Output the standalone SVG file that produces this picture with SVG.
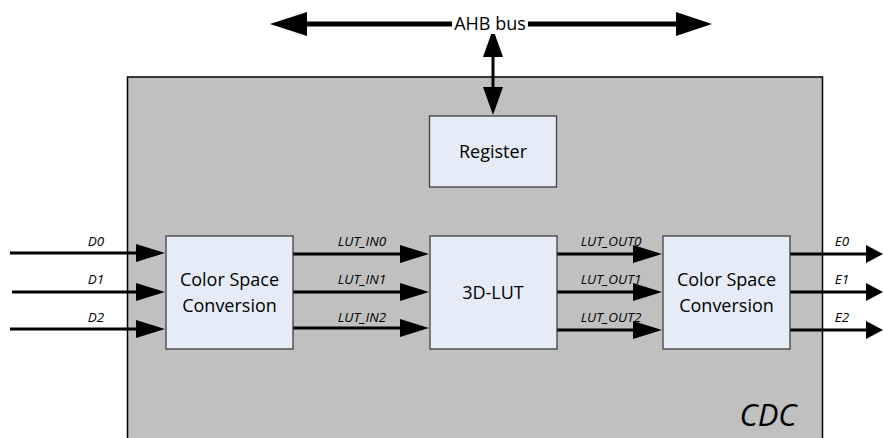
<svg xmlns="http://www.w3.org/2000/svg" width="883" height="438" viewBox="0 0 883 438">
<style>
.box{fill:#e6ecf7;stroke:#404040;stroke-width:1.3}
.t{font-family:"Open Sans","Liberation Sans",sans-serif;font-size:18px;fill:#000;text-anchor:middle}
.l{font-family:"Open Sans","Liberation Sans",sans-serif;font-size:13.5px;font-style:italic;fill:#000;text-anchor:middle}
.w{stroke:#000;stroke-width:3;fill:none}
.bus{stroke:#000;stroke-width:5;fill:none}
.h{fill:#000}
</style>
<rect width="883" height="438" fill="#fff"/>
<g id="cdc">
<rect x="127.5" y="77" width="695" height="370" fill="#c0c0c0" stroke="#000" stroke-width="1.5"/>
<text x="768" y="426" font-family="'Open Sans','Liberation Sans',sans-serif" font-size="31" font-style="italic" text-anchor="middle">CDC</text>
</g>
<g id="connectors">
<line class="bus" x1="300" y1="24" x2="682" y2="24"/>
<polygon class="h" points="270,24 307,12 307,36"/>
<polygon class="h" points="712,24 676,12 676,36"/>
<line class="w" x1="493" y1="55" x2="493" y2="89" stroke-width="4"/>
<polygon class="h" points="493,29 483,57 503,57"/>
<polygon class="h" points="493,115 483,87 503,87"/>
<line class="w" x1="10" y1="253" x2="140" y2="253"/>
<line class="w" x1="12" y1="292" x2="140" y2="292"/>
<line class="w" x1="10" y1="329" x2="140" y2="329"/>
<polygon class="h" points="165,253 136,244 136,262"/>
<polygon class="h" points="165,292 136,283 136,301"/>
<polygon class="h" points="165,329 136,320 136,338"/>
<line class="w" x1="293" y1="254" x2="404" y2="254"/>
<line class="w" x1="293" y1="292" x2="404" y2="292"/>
<line class="w" x1="293" y1="328" x2="404" y2="328"/>
<polygon class="h" points="429,254 400,245 400,263"/>
<polygon class="h" points="429,292 400,283 400,301"/>
<polygon class="h" points="429,328 400,319 400,337"/>
<line class="w" x1="557" y1="254" x2="637" y2="254"/>
<line class="w" x1="557" y1="292" x2="637" y2="292"/>
<line class="w" x1="557" y1="330" x2="637" y2="330"/>
<polygon class="h" points="662,254 633,245 633,263"/>
<polygon class="h" points="662,292 633,283 633,301"/>
<polygon class="h" points="662,330 633,321 633,339"/>
<line class="w" x1="790" y1="254" x2="870" y2="254"/>
<line class="w" x1="790" y1="292" x2="870" y2="292"/>
<line class="w" x1="790" y1="330" x2="870" y2="330"/>
<polygon class="h" points="883,254 866,245 866,263"/>
<polygon class="h" points="883,292 866,283 866,301"/>
<polygon class="h" points="883,330 866,321 866,339"/>
<rect x="452" y="14" width="76" height="20" fill="#fff"/>
<text class="t" x="490" y="30">AHB bus</text>
<text class="l" x="96" y="246">D0</text>
<text class="l" x="96" y="284">D1</text>
<text class="l" x="96" y="322">D2</text>
<text class="l" x="362" y="246">LUT_IN0</text>
<text class="l" x="362" y="284">LUT_IN1</text>
<text class="l" x="362" y="322">LUT_IN2</text>
<text class="l" x="611" y="246">LUT_OUT0</text>
<text class="l" x="611" y="284">LUT_OUT1</text>
<text class="l" x="611" y="322">LUT_OUT2</text>
<text class="l" x="842" y="246">E0</text>
<text class="l" x="842" y="284">E1</text>
<text class="l" x="842" y="322">E2</text>
</g>
<g id="register">
<rect class="box" x="429.5" y="116" width="127" height="71"/>
<text class="t" x="493" y="158">Register</text>
</g>
<g id="csc1">
<rect class="box" x="166" y="236" width="127" height="113"/>
<text class="t" x="229.5" y="286">Color Space</text>
<text class="t" x="229.5" y="312">Conversion</text>
</g>
<g id="lut3d">
<rect class="box" x="430" y="236" width="127" height="113"/>
<text class="t" x="493" y="299">3D-LUT</text>
</g>
<g id="csc2">
<rect class="box" x="663" y="236" width="127" height="113"/>
<text class="t" x="726.5" y="286">Color Space</text>
<text class="t" x="726.5" y="312">Conversion</text>
</g>
</svg>
